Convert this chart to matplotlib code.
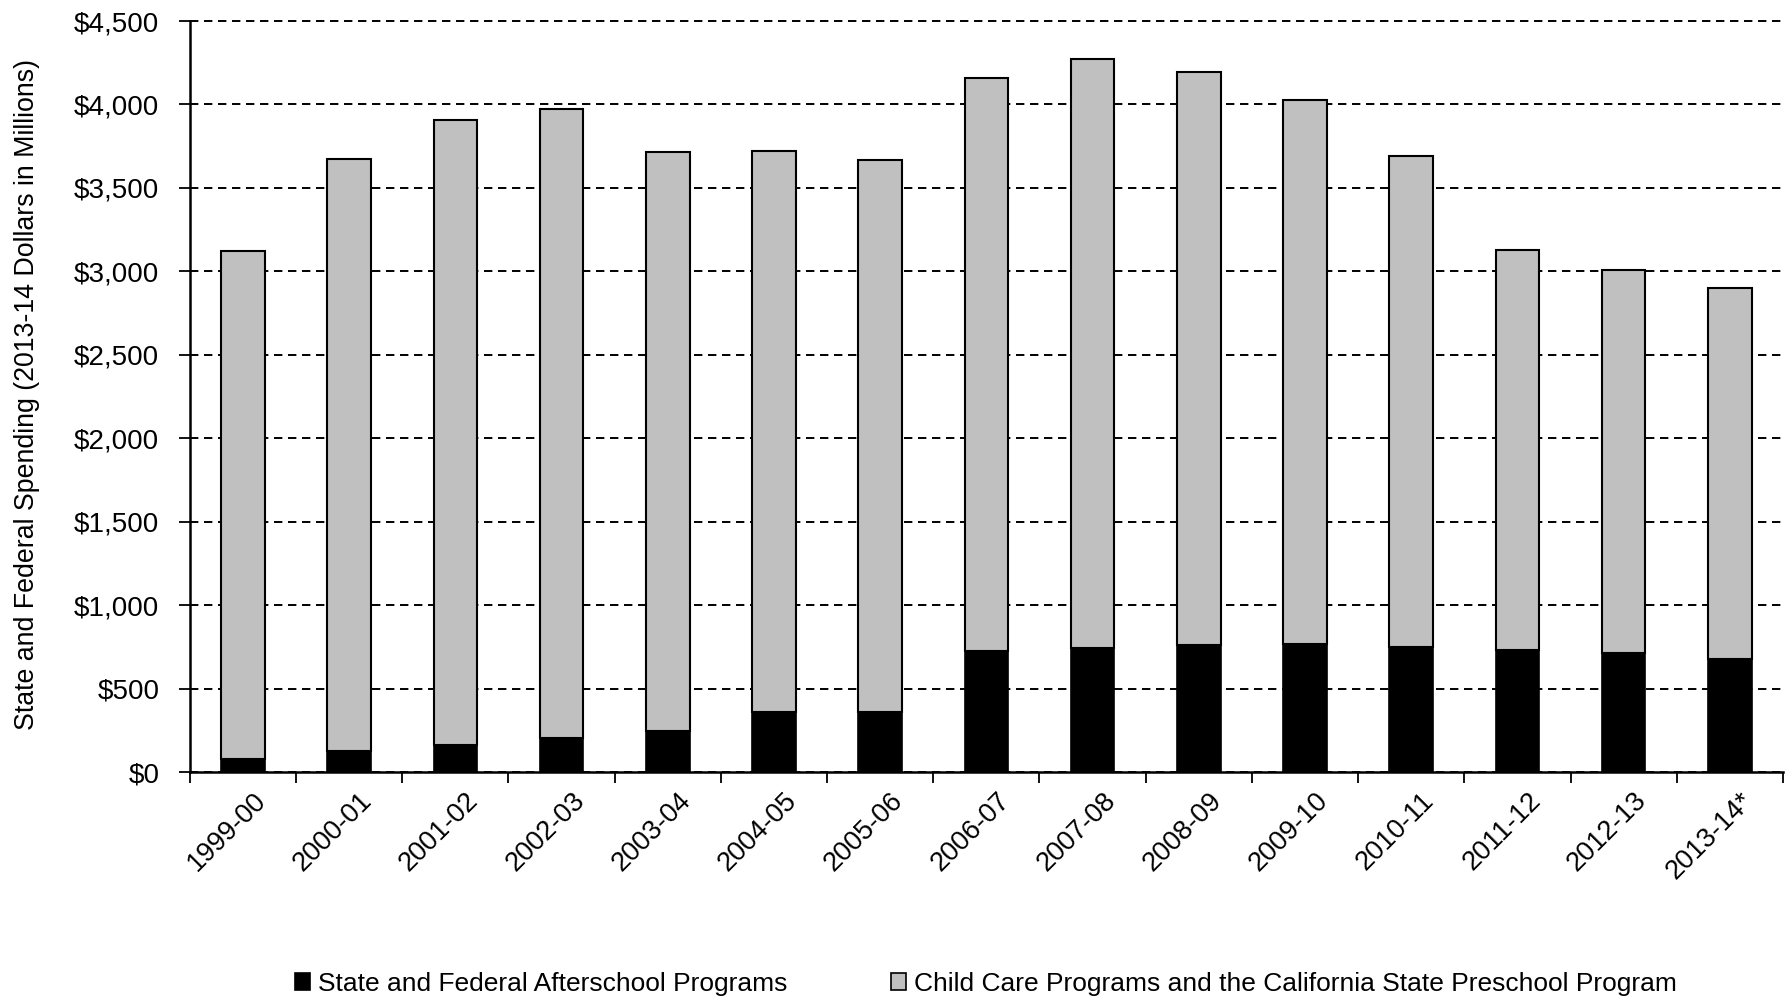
import matplotlib
matplotlib.use("Agg")
import matplotlib.pyplot as plt
import matplotlib.transforms as mtransforms
from matplotlib.patches import Patch
from matplotlib.ticker import FuncFormatter, FixedLocator
import numpy as np

plt.rcParams['font.family'] = ['Liberation Sans Narrow', 'Liberation Sans', 'DejaVu Sans']

years = ["1999-00", "2000-01", "2001-02", "2002-03", "2003-04", "2004-05", "2005-06",
         "2006-07", "2007-08", "2008-09", "2009-10", "2010-11", "2011-12", "2012-13", "2013-14*"]
afterschool = [80, 128, 164, 204, 248, 360, 358, 724, 742, 764, 768, 747, 731, 711, 675]
totals = [3120, 3673, 3906, 3974, 3714, 3721, 3666, 4159, 4275, 4193, 4029, 3694, 3126, 3010, 2900]
child_care = [t - a for t, a in zip(totals, afterschool)]

series_names = ["State and Federal Afterschool Programs",
                "Child Care Programs and the California State Preschool Program"]

fig = plt.figure(figsize=(17.91, 10.02), dpi=100)
ax = fig.add_axes([0.106, 0.2295, 0.8895, 0.7495])

x = np.arange(len(years))
w = 0.41
ax.bar(x, afterschool, w, color="black", edgecolor="black", linewidth=1.2, zorder=3)
ax.bar(x, child_care, w, bottom=afterschool, color="#c0c0c0", edgecolor="black",
       linewidth=1.5, zorder=3)

ax.set_xlim(-0.5, len(years) - 0.5)
ax.set_ylim(0, 4500)
ax.set_yticks(np.arange(0, 4501, 500))
ax.yaxis.set_major_formatter(FuncFormatter(lambda v, p: f"${v:,.0f}"))
ax.yaxis.grid(True, color="black", linewidth=1.4, linestyle=(0, (4.3, 2.9)), zorder=0)
ax.set_axisbelow(True)
for gl in ax.yaxis.get_gridlines():
    gl.set_clip_on(False)

# category boundaries carry the tick marks, labels sit at bar centres
ax.xaxis.set_major_locator(FixedLocator(np.arange(-0.5, len(years), 1.0)))
ax.xaxis.set_minor_locator(FixedLocator(x))
ax.set_xticklabels([])
ax.set_xticklabels(years, minor=True, rotation=45, ha="right", rotation_mode="anchor",
                   fontsize=19.5)
ax.tick_params(axis="x", which="major", length=8, width=1.3, direction="out")
ax.tick_params(axis="x", which="minor", length=0, pad=11)
ax.tick_params(axis="y", length=8, width=1.3, direction="out", labelsize=20, pad=14)
offset = mtransforms.ScaledTranslation(10 / 100, 0, fig.dpi_scale_trans)
for lbl in ax.get_xticklabels(minor=True):
    lbl.set_transform(lbl.get_transform() + offset)

for s in ["top", "right"]:
    ax.spines[s].set_visible(False)
for s in ["left", "bottom"]:
    ax.spines[s].set_linewidth(1.8)

ax.set_ylabel("State and Federal Spending (2013-14 Dollars in Millions)", fontsize=19.3,
              va="center")
ax.yaxis.set_label_coords(-0.1021, 0.503)

handles = [Patch(facecolor="black", edgecolor="black", linewidth=1.2),
           Patch(facecolor="#c0c0c0", edgecolor="black", linewidth=1.2)]
fig.legend(handles, series_names, loc="center", bbox_to_anchor=(0.5505, 0.0183), ncol=2,
           frameon=False, fontsize=19, handlelength=0.6, handleheight=0.6,
           handletextpad=0.3, columnspacing=3.9)

fig.savefig("out.png", dpi=100)
